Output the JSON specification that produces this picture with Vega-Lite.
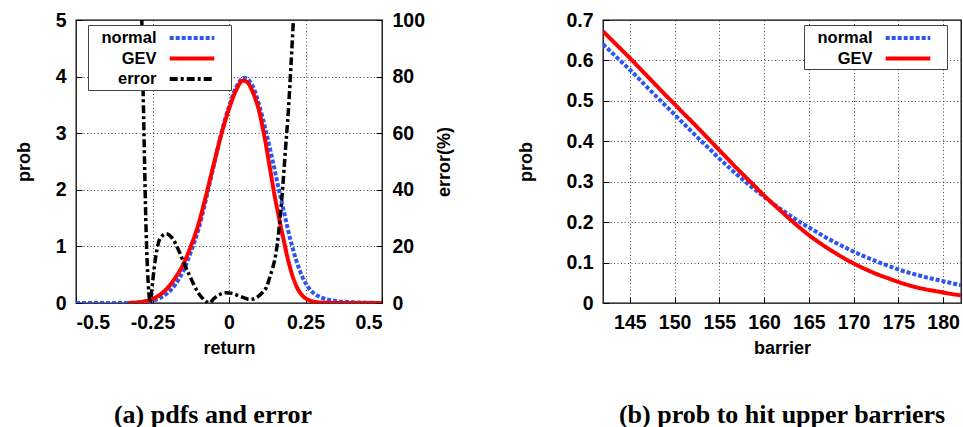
{
  "$schema": "https://vega.github.io/schema/vega-lite/v6.json",
  "padding": {"left": 14, "top": 9, "right": 0, "bottom": 0},
  "background": "white",
  "config": {
    "font": "Liberation Sans",
    "view": {"stroke": "black", "strokeWidth": 1.3},
    "axis": {
      "domain": false,
      "labelFont": "Liberation Sans",
      "labelFontSize": 19.5,
      "labelFontWeight": "bold",
      "labelColor": "black",
      "titleFont": "Liberation Sans",
      "titleFontSize": 18,
      "titleFontWeight": "bold",
      "titleColor": "black",
      "gridColor": "#333",
      "gridDash": [1, 2.5],
      "gridWidth": 1,
      "gridOpacity": 0.9,
      "ticks": true,
      "tickSize": -6,
      "tickColor": "black",
      "tickWidth": 1,
      "labelPadding": 16
    },
    "legend": {
      "labelFont": "Liberation Sans",
      "labelFontSize": 16.5,
      "labelFontWeight": "bold",
      "labelColor": "black",
      "labelAlign": "right",
      "labelBaseline": "middle",
      "symbolType": "M-2.55,0H2.55M3.3,0L3.3,0",
      "symbolSize": 306,
      "symbolStrokeWidth": 4,
      "symbolOffset": 91,
      "labelOffset": -46.5,
      "strokeColor": "#444",
      "fillColor": "white",
      "padding": 2,
      "rowPadding": 0.5
    },
    "title": {
      "font": "Liberation Serif",
      "fontSize": 26,
      "fontWeight": "bold",
      "color": "black",
      "orient": "bottom",
      "anchor": "middle",
      "offset": 44
    }
  },
  "hconcat": [
    {
      "width": 306,
      "height": 283,
      "title": {"text": "(a) pdfs and error", "dx": -16},
      "data": {
        "values": [
          {"x": -0.5, "y": 0, "series": "normal"},
          {"x": -0.45, "y": 0, "series": "normal"},
          {"x": -0.4, "y": 0, "series": "normal"},
          {"x": -0.35, "y": 0, "series": "normal"},
          {"x": -0.325, "y": 0.002, "series": "normal"},
          {"x": -0.3, "y": 0.006, "series": "normal"},
          {"x": -0.275, "y": 0.016, "series": "normal"},
          {"x": -0.25, "y": 0.04, "series": "normal"},
          {"x": -0.225, "y": 0.09, "series": "normal"},
          {"x": -0.2, "y": 0.18, "series": "normal"},
          {"x": -0.175, "y": 0.33, "series": "normal"},
          {"x": -0.15, "y": 0.56, "series": "normal"},
          {"x": -0.125, "y": 0.9, "series": "normal"},
          {"x": -0.1, "y": 1.3, "series": "normal"},
          {"x": -0.075, "y": 1.84, "series": "normal"},
          {"x": -0.05, "y": 2.42, "series": "normal"},
          {"x": -0.025, "y": 3.0, "series": "normal"},
          {"x": 0, "y": 3.47, "series": "normal"},
          {"x": 0.025, "y": 3.83, "series": "normal"},
          {"x": 0.05, "y": 3.98, "series": "normal"},
          {"x": 0.075, "y": 3.86, "series": "normal"},
          {"x": 0.1, "y": 3.47, "series": "normal"},
          {"x": 0.12, "y": 3.05, "series": "normal"},
          {"x": 0.14, "y": 2.58, "series": "normal"},
          {"x": 0.16, "y": 2.08, "series": "normal"},
          {"x": 0.18, "y": 1.6, "series": "normal"},
          {"x": 0.2, "y": 1.13, "series": "normal"},
          {"x": 0.22, "y": 0.75, "series": "normal"},
          {"x": 0.24, "y": 0.46, "series": "normal"},
          {"x": 0.26, "y": 0.27, "series": "normal"},
          {"x": 0.28, "y": 0.16, "series": "normal"},
          {"x": 0.3, "y": 0.1, "series": "normal"},
          {"x": 0.32, "y": 0.065, "series": "normal"},
          {"x": 0.35, "y": 0.035, "series": "normal"},
          {"x": 0.4, "y": 0.015, "series": "normal"},
          {"x": 0.45, "y": 0.005, "series": "normal"},
          {"x": 0.5, "y": 0, "series": "normal"},
          {"x": -0.33, "y": 0, "series": "GEV"},
          {"x": -0.3, "y": 0.01, "series": "GEV"},
          {"x": -0.275, "y": 0.03, "series": "GEV"},
          {"x": -0.25, "y": 0.07, "series": "GEV"},
          {"x": -0.225, "y": 0.15, "series": "GEV"},
          {"x": -0.2, "y": 0.27, "series": "GEV"},
          {"x": -0.175, "y": 0.45, "series": "GEV"},
          {"x": -0.15, "y": 0.68, "series": "GEV"},
          {"x": -0.125, "y": 1.0, "series": "GEV"},
          {"x": -0.1, "y": 1.39, "series": "GEV"},
          {"x": -0.075, "y": 1.9, "series": "GEV"},
          {"x": -0.05, "y": 2.45, "series": "GEV"},
          {"x": -0.025, "y": 2.98, "series": "GEV"},
          {"x": 0, "y": 3.43, "series": "GEV"},
          {"x": 0.025, "y": 3.78, "series": "GEV"},
          {"x": 0.045, "y": 3.93, "series": "GEV"},
          {"x": 0.06, "y": 3.9, "series": "GEV"},
          {"x": 0.075, "y": 3.76, "series": "GEV"},
          {"x": 0.09, "y": 3.55, "series": "GEV"},
          {"x": 0.1, "y": 3.36, "series": "GEV"},
          {"x": 0.11, "y": 3.1, "series": "GEV"},
          {"x": 0.12, "y": 2.82, "series": "GEV"},
          {"x": 0.13, "y": 2.5, "series": "GEV"},
          {"x": 0.14, "y": 2.18, "series": "GEV"},
          {"x": 0.15, "y": 1.87, "series": "GEV"},
          {"x": 0.16, "y": 1.6, "series": "GEV"},
          {"x": 0.17, "y": 1.33, "series": "GEV"},
          {"x": 0.18, "y": 1.08, "series": "GEV"},
          {"x": 0.19, "y": 0.83, "series": "GEV"},
          {"x": 0.2, "y": 0.62, "series": "GEV"},
          {"x": 0.21, "y": 0.44, "series": "GEV"},
          {"x": 0.22, "y": 0.3, "series": "GEV"},
          {"x": 0.23, "y": 0.2, "series": "GEV"},
          {"x": 0.24, "y": 0.13, "series": "GEV"},
          {"x": 0.26, "y": 0.055, "series": "GEV"},
          {"x": 0.28, "y": 0.02, "series": "GEV"},
          {"x": 0.3, "y": 0.007, "series": "GEV"},
          {"x": 0.35, "y": 0.001, "series": "GEV"},
          {"x": 0.4, "y": 0, "series": "GEV"},
          {"x": 0.5, "y": 0, "series": "GEV"},
          {"x": -0.29, "y": 130, "series": "error"},
          {"x": -0.285, "y": 100, "series": "error"},
          {"x": -0.281, "y": 77, "series": "error"},
          {"x": -0.276, "y": 50, "series": "error"},
          {"x": -0.272, "y": 30, "series": "error"},
          {"x": -0.268, "y": 16, "series": "error"},
          {"x": -0.264, "y": 7, "series": "error"},
          {"x": -0.26, "y": 1.5, "series": "error"},
          {"x": -0.257, "y": 0, "series": "error"},
          {"x": -0.253, "y": 4, "series": "error"},
          {"x": -0.248, "y": 9, "series": "error"},
          {"x": -0.24, "y": 16, "series": "error"},
          {"x": -0.23, "y": 21.5, "series": "error"},
          {"x": -0.22, "y": 23.5, "series": "error"},
          {"x": -0.205, "y": 24.5, "series": "error"},
          {"x": -0.19, "y": 23.5, "series": "error"},
          {"x": -0.175, "y": 21, "series": "error"},
          {"x": -0.16, "y": 17.5, "series": "error"},
          {"x": -0.145, "y": 13.5, "series": "error"},
          {"x": -0.13, "y": 10, "series": "error"},
          {"x": -0.115, "y": 6.5, "series": "error"},
          {"x": -0.1, "y": 3.5, "series": "error"},
          {"x": -0.085, "y": 1.5, "series": "error"},
          {"x": -0.07, "y": 0.2, "series": "error"},
          {"x": -0.063, "y": 0, "series": "error"},
          {"x": -0.05, "y": 1.5, "series": "error"},
          {"x": -0.03, "y": 3, "series": "error"},
          {"x": -0.01, "y": 3.6, "series": "error"},
          {"x": 0.01, "y": 3.4, "series": "error"},
          {"x": 0.03, "y": 2.6, "series": "error"},
          {"x": 0.05, "y": 1.8, "series": "error"},
          {"x": 0.065, "y": 1.3, "series": "error"},
          {"x": 0.08, "y": 1.4, "series": "error"},
          {"x": 0.095, "y": 2.3, "series": "error"},
          {"x": 0.11, "y": 3.8, "series": "error"},
          {"x": 0.122, "y": 5.5, "series": "error"},
          {"x": 0.133, "y": 9, "series": "error"},
          {"x": 0.143, "y": 12.5, "series": "error"},
          {"x": 0.15, "y": 15.5, "series": "error"},
          {"x": 0.158, "y": 21, "series": "error"},
          {"x": 0.166, "y": 29, "series": "error"},
          {"x": 0.172, "y": 36, "series": "error"},
          {"x": 0.177, "y": 43, "series": "error"},
          {"x": 0.185, "y": 55, "series": "error"},
          {"x": 0.194, "y": 68, "series": "error"},
          {"x": 0.202, "y": 83, "series": "error"},
          {"x": 0.21, "y": 99, "series": "error"},
          {"x": 0.22, "y": 120, "series": "error"}
        ]
      },
      "layer": [
        {
          "transform": [{"filter": "datum.series != 'error'"}],
          "mark": {"type": "line", "strokeWidth": 4, "clip": true, "interpolate": "monotone"},
          "encoding": {
            "x": {
              "field": "x", "type": "quantitative",
              "scale": {"domain": [-0.5, 0.5], "nice": false, "zero": false},
              "axis": {"title": "return", "values": [-0.5, -0.25, 0, 0.25, 0.5], "labelExpr": "toString(datum.value)", "titlePadding": 8}
            },
            "y": {
              "field": "y", "type": "quantitative",
              "scale": {"domain": [0, 5], "nice": false},
              "axis": {"title": "prob", "orient": "left", "values": [0, 1, 2, 3, 4, 5], "titlePadding": 22}
            },
            "color": {
              "field": "series", "type": "nominal",
              "scale": {"domain": ["normal", "GEV", "error"], "range": ["#2b55f5", "#ff0000", "#000000"]},
              "legend": {"title": null, "orient": "none", "legendX": 12, "legendY": 5}
            },
            "strokeDash": {
              "field": "series", "type": "nominal",
              "scale": {"domain": ["normal", "GEV", "error"], "range": [[4, 2], [1, 0], [8, 3, 3, 3]]},
              "legend": {"title": null, "orient": "none", "legendX": 12, "legendY": 5}
            }
          }
        },
        {
          "transform": [{"filter": "datum.series == 'error'"}],
          "mark": {"type": "line", "strokeWidth": 3.5, "clip": true, "interpolate": "monotone"},
          "encoding": {
            "x": {"field": "x", "type": "quantitative"},
            "y": {
              "field": "y", "type": "quantitative",
              "scale": {"domain": [0, 100], "nice": false},
              "axis": {"title": "error(%)", "orient": "right", "values": [0, 20, 40, 60, 80, 100], "grid": false, "titleAngle": -90, "titleBaseline": "top", "titlePadding": 11}
            },
            "color": {"field": "series", "type": "nominal"},
            "strokeDash": {"field": "series", "type": "nominal"}
          }
        }
      ],
      "resolve": {"scale": {"y": "independent"}}
    },
    {
      "width": 358,
      "height": 283,
      "title": {"text": "(b) prob to hit upper barriers"},
      "data": {
        "values": [
          {"x": 142, "y": 0.640, "series": "normal"},
          {"x": 143, "y": 0.619, "series": "normal"},
          {"x": 144, "y": 0.598, "series": "normal"},
          {"x": 145, "y": 0.577, "series": "normal"},
          {"x": 146, "y": 0.555, "series": "normal"},
          {"x": 147, "y": 0.532, "series": "normal"},
          {"x": 148, "y": 0.510, "series": "normal"},
          {"x": 149, "y": 0.488, "series": "normal"},
          {"x": 150, "y": 0.466, "series": "normal"},
          {"x": 151, "y": 0.444, "series": "normal"},
          {"x": 152, "y": 0.422, "series": "normal"},
          {"x": 153, "y": 0.400, "series": "normal"},
          {"x": 154, "y": 0.379, "series": "normal"},
          {"x": 155, "y": 0.357, "series": "normal"},
          {"x": 156, "y": 0.337, "series": "normal"},
          {"x": 157, "y": 0.317, "series": "normal"},
          {"x": 158, "y": 0.298, "series": "normal"},
          {"x": 159, "y": 0.280, "series": "normal"},
          {"x": 160, "y": 0.263, "series": "normal"},
          {"x": 161, "y": 0.246, "series": "normal"},
          {"x": 162, "y": 0.230, "series": "normal"},
          {"x": 163, "y": 0.215, "series": "normal"},
          {"x": 164, "y": 0.200, "series": "normal"},
          {"x": 165, "y": 0.187, "series": "normal"},
          {"x": 166, "y": 0.174, "series": "normal"},
          {"x": 167, "y": 0.161, "series": "normal"},
          {"x": 168, "y": 0.149, "series": "normal"},
          {"x": 169, "y": 0.138, "series": "normal"},
          {"x": 170, "y": 0.127, "series": "normal"},
          {"x": 171, "y": 0.117, "series": "normal"},
          {"x": 172, "y": 0.108, "series": "normal"},
          {"x": 173, "y": 0.099, "series": "normal"},
          {"x": 174, "y": 0.091, "series": "normal"},
          {"x": 175, "y": 0.083, "series": "normal"},
          {"x": 176, "y": 0.076, "series": "normal"},
          {"x": 177, "y": 0.070, "series": "normal"},
          {"x": 178, "y": 0.064, "series": "normal"},
          {"x": 179, "y": 0.059, "series": "normal"},
          {"x": 180, "y": 0.054, "series": "normal"},
          {"x": 181, "y": 0.049, "series": "normal"},
          {"x": 182, "y": 0.044, "series": "normal"},
          {"x": 142, "y": 0.672, "series": "GEV"},
          {"x": 143, "y": 0.650, "series": "GEV"},
          {"x": 144, "y": 0.628, "series": "GEV"},
          {"x": 145, "y": 0.606, "series": "GEV"},
          {"x": 146, "y": 0.583, "series": "GEV"},
          {"x": 147, "y": 0.560, "series": "GEV"},
          {"x": 148, "y": 0.537, "series": "GEV"},
          {"x": 149, "y": 0.514, "series": "GEV"},
          {"x": 150, "y": 0.492, "series": "GEV"},
          {"x": 151, "y": 0.469, "series": "GEV"},
          {"x": 152, "y": 0.447, "series": "GEV"},
          {"x": 153, "y": 0.424, "series": "GEV"},
          {"x": 154, "y": 0.401, "series": "GEV"},
          {"x": 155, "y": 0.378, "series": "GEV"},
          {"x": 156, "y": 0.355, "series": "GEV"},
          {"x": 157, "y": 0.332, "series": "GEV"},
          {"x": 158, "y": 0.310, "series": "GEV"},
          {"x": 159, "y": 0.288, "series": "GEV"},
          {"x": 160, "y": 0.266, "series": "GEV"},
          {"x": 161, "y": 0.245, "series": "GEV"},
          {"x": 162, "y": 0.225, "series": "GEV"},
          {"x": 163, "y": 0.205, "series": "GEV"},
          {"x": 164, "y": 0.186, "series": "GEV"},
          {"x": 165, "y": 0.168, "series": "GEV"},
          {"x": 166, "y": 0.152, "series": "GEV"},
          {"x": 167, "y": 0.137, "series": "GEV"},
          {"x": 168, "y": 0.123, "series": "GEV"},
          {"x": 169, "y": 0.110, "series": "GEV"},
          {"x": 170, "y": 0.098, "series": "GEV"},
          {"x": 171, "y": 0.087, "series": "GEV"},
          {"x": 172, "y": 0.077, "series": "GEV"},
          {"x": 173, "y": 0.068, "series": "GEV"},
          {"x": 174, "y": 0.060, "series": "GEV"},
          {"x": 175, "y": 0.052, "series": "GEV"},
          {"x": 176, "y": 0.045, "series": "GEV"},
          {"x": 177, "y": 0.039, "series": "GEV"},
          {"x": 178, "y": 0.034, "series": "GEV"},
          {"x": 179, "y": 0.030, "series": "GEV"},
          {"x": 180, "y": 0.026, "series": "GEV"},
          {"x": 181, "y": 0.022, "series": "GEV"},
          {"x": 182, "y": 0.019, "series": "GEV"}
        ]
      },
      "mark": {"type": "line", "strokeWidth": 4, "clip": true, "interpolate": "monotone"},
      "encoding": {
        "x": {
          "field": "x", "type": "quantitative",
          "scale": {"domain": [142, 182], "nice": false, "zero": false},
          "axis": {"title": "barrier", "values": [145, 150, 155, 160, 165, 170, 175, 180], "titlePadding": 8}
        },
        "y": {
          "field": "y", "type": "quantitative",
          "scale": {"domain": [0, 0.7], "nice": false},
          "axis": {"title": "prob", "values": [0, 0.1, 0.2, 0.3, 0.4, 0.5, 0.6, 0.7], "labelExpr": "toString(datum.value)", "titlePadding": 30}
        },
        "color": {
          "field": "series", "type": "nominal",
          "scale": {"domain": ["normal", "GEV"], "range": ["#2b55f5", "#ff0000"]},
          "legend": {"title": null, "orient": "none", "legendX": 201, "legendY": 5}
        },
        "strokeDash": {
          "field": "series", "type": "nominal",
          "scale": {"domain": ["normal", "GEV"], "range": [[4, 2], [1, 0]]},
          "legend": {"title": null, "orient": "none", "legendX": 201, "legendY": 5}
        }
      }
    }
  ],
  "spacing": 62,
  "resolve": {"scale": {"color": "independent", "strokeDash": "independent"}, "legend": {"color": "independent", "strokeDash": "independent"}}
}
